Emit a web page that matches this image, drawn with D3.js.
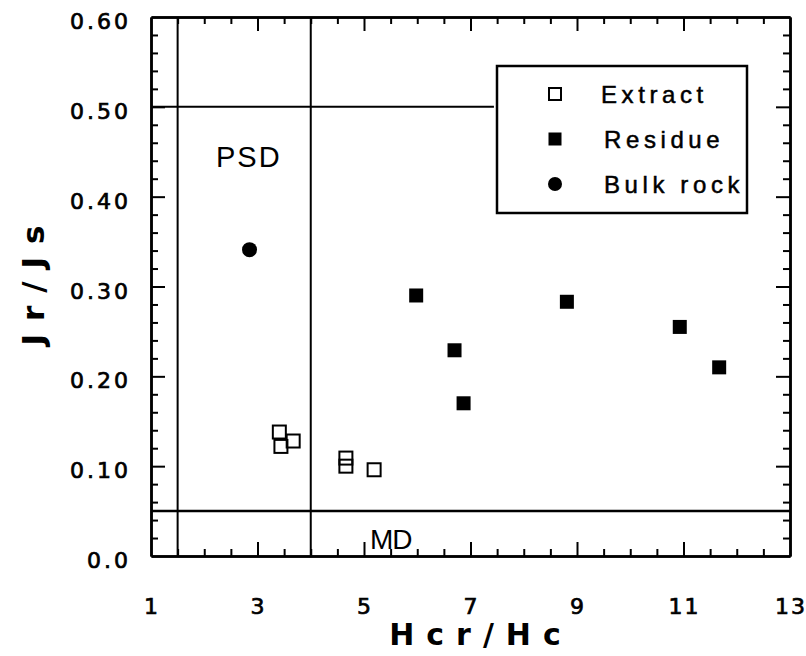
<!DOCTYPE html>
<html>
<head>
<meta charset="utf-8">
<script src="https://cdn.jsdelivr.net/npm/d3@7"></script>
<style>
  html, body { margin: 0; padding: 0; background: #fff; }
  svg { display: block; }
  text { fill: #000; }
</style>
</head>
<body>
<svg id="chart" width="806" height="656"></svg>
<script>
// ---- Data ----
const extractX = [3.41, 3.44, 3.67, 4.66, 4.66, 5.19];
const extractY = [0.138, 0.122, 0.128, 0.109, 0.100, 0.096];
const residueX = [5.98, 6.70, 6.87, 8.81, 10.93, 11.67];
const residueY = [0.290, 0.229, 0.170, 0.283, 0.255, 0.210];
const bulkX = [2.85];
const bulkY = [0.341];
const xTickLabels = [1, 3, 5, 7, 9, 11, 13];
const yTickLabels = ["0.0", "0.10", "0.20", "0.30", "0.40", "0.50", "0.60"];
const yTickValues = [0, 0.1, 0.2, 0.3, 0.4, 0.5, 0.6];
const psdBounds = [1.5, 4];       // Hcr/Hc boundaries (vertical lines)
const sdMdBounds = [0.5, 0.05];   // Jr/Js boundaries (horizontal lines)
const legendItems = ["Extract", "Residue", "Bulk rock"];

// ---- Layout ----
const svg = d3.select("#chart");
const x = d3.scaleLinear().domain([1, 13]).range([151, 790]);
const y = d3.scaleLinear().domain([0, 0.6]).range([556, 17]);

const xMinor = d3.range(1.5, 13, 0.5).filter(v => !xTickLabels.includes(v));
const xMajor = xTickLabels.filter(v => v > 1 && v < 13);
const yMinor = d3.range(0.02, 0.6, 0.02).map(v => +v.toFixed(2)).filter(v => Math.abs(v*10 - Math.round(v*10)) > 1e-6);
const yMajor = yTickValues.filter(v => v > 0 && v < 0.6);

function styleAxis(g) {
  g.selectAll("path").attr("stroke", "#000").attr("stroke-width", 2.5);
  g.selectAll("line").attr("stroke", "#000").attr("stroke-width", 2);
  g.selectAll("text").remove();
}

// bottom
svg.append("g").attr("transform", `translate(0,${y(0)})`)
  .call(d3.axisBottom(x).tickValues(xMinor).tickSize(-7).tickSizeOuter(0)).call(styleAxis);
svg.append("g").attr("transform", `translate(0,${y(0)})`)
  .call(d3.axisBottom(x).tickValues(xMajor).tickSize(-14).tickSizeOuter(0)).call(styleAxis);
// top
svg.append("g").attr("transform", `translate(0,${y(0.6)})`)
  .call(d3.axisTop(x).tickValues(xMinor).tickSize(-7).tickSizeOuter(0)).call(styleAxis);
svg.append("g").attr("transform", `translate(0,${y(0.6)})`)
  .call(d3.axisTop(x).tickValues(xMajor).tickSize(-14).tickSizeOuter(0)).call(styleAxis);
// left
svg.append("g").attr("transform", `translate(${x(1)},0)`)
  .call(d3.axisLeft(y).tickValues(yMinor).tickSize(-7).tickSizeOuter(0)).call(styleAxis);
svg.append("g").attr("transform", `translate(${x(1)},0)`)
  .call(d3.axisLeft(y).tickValues(yMajor).tickSize(-14).tickSizeOuter(0)).call(styleAxis);
// right
svg.append("g").attr("transform", `translate(${x(13)},0)`)
  .call(d3.axisRight(y).tickValues(yMinor).tickSize(-7).tickSizeOuter(0)).call(styleAxis);
svg.append("g").attr("transform", `translate(${x(13)},0)`)
  .call(d3.axisRight(y).tickValues(yMajor).tickSize(-14).tickSizeOuter(0)).call(styleAxis);

// tick labels
svg.append("g").selectAll("text").data(xTickLabels).join("text")
  .attr("x", d => x(d) + 1)
  .attr("y", 614)
  .attr("text-anchor", "middle")
  .attr("font-family", "DejaVu Sans")
  .attr("font-size", 22)
  .attr("letter-spacing", 2)
  .attr("stroke", "#000").attr("stroke-width", 0.7)
  .text(d => d);

svg.append("g").selectAll("text").data(yTickValues).join("text")
  .attr("x", 131)
  .attr("y", d => y(d) + 12)
  .attr("text-anchor", "end")
  .attr("font-family", "DejaVu Sans")
  .attr("font-size", 22)
  .attr("letter-spacing", 3)
  .attr("stroke", "#000").attr("stroke-width", 0.7)
  .text((d, i) => yTickLabels[i]);

// axis titles
svg.append("text")
  .attr("x", 481).attr("y", 645)
  .attr("text-anchor", "middle")
  .attr("font-family", "DejaVu Sans").attr("font-weight", "bold")
  .attr("font-size", 30).attr("letter-spacing", 12)
  .text("Hcr/Hc");

svg.append("text")
  .attr("transform", "translate(44,279) rotate(-90)")
  .attr("text-anchor", "middle")
  .attr("font-family", "DejaVu Sans").attr("font-weight", "bold")
  .attr("font-size", 31).attr("letter-spacing", 13)
  .text("Jr/Js");

// boundary lines
svg.append("g").selectAll("line").data(psdBounds).join("line")
  .attr("x1", d => x(d)).attr("x2", d => x(d))
  .attr("y1", y(0.6)).attr("y2", y(0))
  .attr("stroke", "#000").attr("stroke-width", 2);
svg.append("line")
  .attr("x1", x(1)).attr("x2", x(7.44))
  .attr("y1", y(sdMdBounds[0])).attr("y2", y(sdMdBounds[0]))
  .attr("stroke", "#000").attr("stroke-width", 2);
svg.append("line")
  .attr("x1", x(1)).attr("x2", x(13))
  .attr("y1", y(sdMdBounds[1])).attr("y2", y(sdMdBounds[1]))
  .attr("stroke", "#000").attr("stroke-width", 2.5);

// region labels
svg.append("text").attr("x", 216).attr("y", 167)
  .attr("font-family", "Liberation Sans").attr("font-size", 29)
  .attr("letter-spacing", 2).text("PSD");
svg.append("text").attr("x", 370).attr("y", 549)
  .attr("font-family", "Liberation Sans").attr("font-size", 28)
  .attr("letter-spacing", -1).text("MD");

// data points
const sq = 13;
svg.append("g").selectAll("rect").data(extractX.map((v, i) => [v, extractY[i]])).join("rect")
  .attr("x", d => x(d[0]) - sq / 2).attr("y", d => y(d[1]) - sq / 2)
  .attr("width", sq).attr("height", sq)
  .attr("fill", "#fff").attr("fill-opacity", 0).attr("stroke", "#000").attr("stroke-width", 2);
const fs = 14;
svg.append("g").selectAll("rect").data(residueX.map((v, i) => [v, residueY[i]])).join("rect")
  .attr("x", d => x(d[0]) - fs / 2).attr("y", d => y(d[1]) - fs / 2)
  .attr("width", fs).attr("height", fs)
  .attr("fill", "#000");
svg.append("g").selectAll("circle").data(bulkX.map((v, i) => [v, bulkY[i]])).join("circle")
  .attr("cx", d => x(d[0])).attr("cy", d => y(d[1]))
  .attr("r", 7.5).attr("fill", "#000");

// legend
const lg = svg.append("g");
lg.append("rect").attr("x", 497).attr("y", 66).attr("width", 250).attr("height", 147)
  .attr("fill", "#fff").attr("stroke", "#000").attr("stroke-width", 2.5);
const rowY = [94, 139, 184];
lg.append("rect").attr("x", 555 - 6).attr("y", rowY[0] - 6).attr("width", 12).attr("height", 12)
  .attr("fill", "#fff").attr("stroke", "#000").attr("stroke-width", 2);
lg.append("rect").attr("x", 555 - 6.5).attr("y", rowY[1] - 6.5).attr("width", 13).attr("height", 13)
  .attr("fill", "#000");
lg.append("circle").attr("cx", 555).attr("cy", rowY[2]).attr("r", 7).attr("fill", "#000");
lg.selectAll("text.lt").data(legendItems).join("text")
  .attr("class", "lt")
  .attr("x", (d, i) => i === 0 ? 601 : 604)
  .attr("y", (d, i) => rowY[i] + 9)
  .attr("font-family", "Liberation Sans").attr("font-size", 24)
  .attr("letter-spacing", 4.6)
  .attr("stroke", "#000").attr("stroke-width", 0.5)
  .text(d => d);
</script>
</body>
</html>
